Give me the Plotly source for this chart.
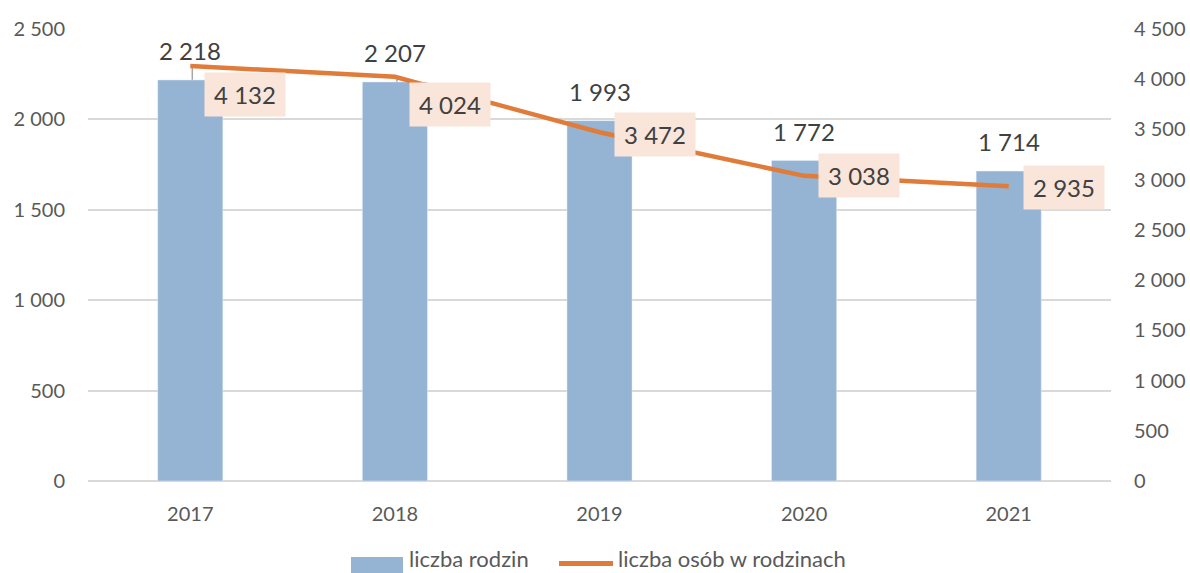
import plotly.graph_objects as go

years = ["2017", "2018", "2019", "2020", "2021"]
families = [2218, 2207, 1993, 1772, 1714]
persons = [4132, 4024, 3472, 3038, 2935]

# vertical offsets (px, downward) of the line value labels
lab_dy = [29, 28, 2, 0, 1]
leader = [True, True, False, False, False]

FONT = "Lato"
BAR = "#95B3D3"
LINE = "#E07B39"
Y2MAX = 4500
PLOT_H = 452.5
PX_PER_CAT = 204.6

def fmt(v):
    return f"{v:,}".replace(",", " ")

fig = go.Figure()
fig.add_trace(go.Bar(x=years, y=families, name="liczba rodzin", marker_color=BAR,
                     width=0.318, yaxis="y", showlegend=False))
fig.add_trace(go.Scatter(x=years, y=persons, name="liczba osób w rodzinach", mode="lines",
                         line=dict(color=LINE, width=4.5), yaxis="y2", showlegend=False))

ann = []
shapes = []
for i, v in enumerate(families):
    ann.append(dict(x=i, y=v, xref="x", yref="y", text=fmt(v), showarrow=False,
                    yanchor="bottom", yshift=13, font=dict(family=FONT, size=24, color="#404040")))
for i, (v, dy, ld) in enumerate(zip(persons, lab_dy, leader)):
    ann.append(dict(x=i, y=v, xref="x", yref="y2", text=fmt(v), showarrow=False,
                    xanchor="left", yanchor="middle", xshift=14, yshift=-dy,
                    bgcolor="#F9E5DA", borderpad=6, width=68, height=31,
                    font=dict(family=FONT, size=24, color="#404040")))
    if ld:
        xl = i + 2 / PX_PER_CAT
        xr = i + 14 / PX_PER_CAT
        yb = v - dy * Y2MAX / PLOT_H
        shapes.append(dict(type="line", xref="x", yref="y2", x0=xl, x1=xl, y0=v, y1=yb,
                           line=dict(color="#A6A6A6", width=1.5), layer="below"))
        shapes.append(dict(type="line", xref="x", yref="y2", x0=xl, x1=xr, y0=yb, y1=yb,
                           line=dict(color="#A6A6A6", width=1.5), layer="below"))

# custom legend (wide symbols like the original)
shapes.append(dict(type="rect", xref="paper", yref="paper", x0=(351 - 88) / 1023, x1=(403 - 88) / 1023,
                   y0=(481 - 573) / PLOT_H, y1=(481 - 557) / PLOT_H, fillcolor=BAR, line=dict(width=0)))
shapes.append(dict(type="line", xref="paper", yref="paper", x0=(559 - 88) / 1023, x1=(613 - 88) / 1023,
                   y0=(481 - 563.5) / PLOT_H, y1=(481 - 563.5) / PLOT_H,
                   line=dict(color=LINE, width=5)))
ann.append(dict(x=(407 - 88) / 1023, y=(481 - 559) / PLOT_H, xref="paper", yref="paper",
                text="liczba rodzin", showarrow=False, xanchor="left", yanchor="middle",
                font=dict(family=FONT, size=22, color="#595959")))
ann.append(dict(x=(616 - 88) / 1023, y=(481 - 559) / PLOT_H, xref="paper", yref="paper",
                text="liczba osób w rodzinach", showarrow=False, xanchor="left", yanchor="middle",
                font=dict(family=FONT, size=22, color="#595959")))

fig.update_layout(
    width=1190, height=573,
    margin=dict(l=88, r=79, t=28.5, b=92, autoexpand=False),
    plot_bgcolor="white", paper_bgcolor="white",
    separators=", ",
    showlegend=False,
    font=dict(family=FONT, size=20, color="#595959"),
    xaxis=dict(type="category", range=[-0.5, 4.5], showline=False, ticks="", automargin=False,
               tickfont=dict(size=20), ticklabelstandoff=19),
    yaxis=dict(range=[0, 2500], dtick=500, tickformat=",d", showgrid=True, automargin=False,
               gridcolor="#D9D9D9", gridwidth=1.5, zeroline=True, zerolinecolor="#D9D9D9",
               zerolinewidth=1.5, ticks="", tickfont=dict(size=20), ticklabelstandoff=22),
    yaxis2=dict(range=[0, Y2MAX], dtick=500, tickformat=",d", overlaying="y", side="right",
                showgrid=False, zeroline=False, ticks="", tickfont=dict(size=20), automargin=False,
                ticklabelstandoff=22),
    annotations=ann,
    shapes=shapes,
)

fig.write_html("out.html", config={"displayModeBar": False},
               post_script="document.body.style.margin='0';document.body.style.overflow='hidden';")
